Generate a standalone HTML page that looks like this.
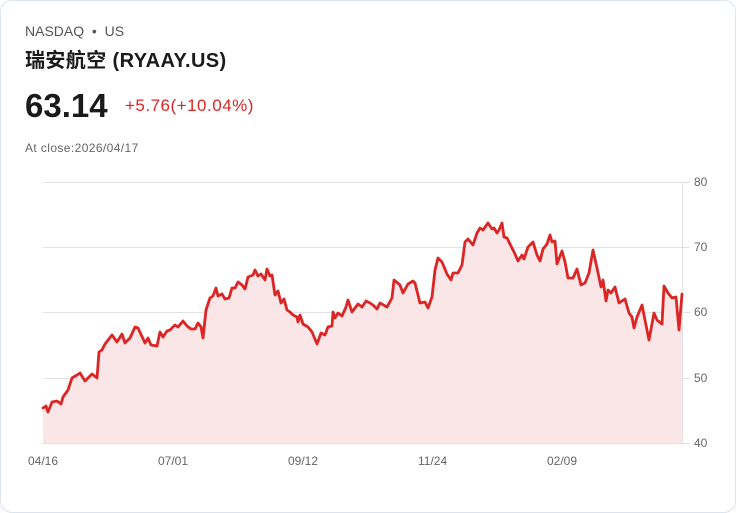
<!DOCTYPE html>
<html><head><meta charset="utf-8"><style>
body{margin:0;background:#fff;width:736px;height:513px;overflow:hidden;font-family:"Liberation Sans","Noto Sans CJK SC",sans-serif}
.card{position:absolute;left:0;top:0;width:734px;height:511px;border:1px solid #dde3ec;border-radius:12px;background:#fff}
.t{position:absolute;white-space:nowrap}
</style></head><body>
<div class="card"></div>
<div class="t" style="left:25px;top:23px;font-size:14px;color:#555">NASDAQ &nbsp;•&nbsp; US</div>
<div class="t" style="left:25px;top:44px;font-size:20px;font-weight:bold;color:#1a1a1a;letter-spacing:0.4px">瑞安航空 (RYAAY.US)</div>
<div class="t" style="left:25px;top:87px;font-size:33px;font-weight:bold;color:#1a1a1a">63.14</div>
<div class="t" style="left:125px;top:96px;font-size:17px;color:#dc2626;letter-spacing:0.5px">+5.76(+10.04%)</div>
<div class="t" style="left:25px;top:141px;font-size:12px;color:#666;letter-spacing:0.4px">At close:2026/04/17</div>
<svg width="736" height="513" style="position:absolute;left:0;top:0">
<g stroke="#e2e2e2" stroke-width="1">
<line x1="43" y1="182.5" x2="683" y2="182.5"/><line x1="43" y1="247.5" x2="683" y2="247.5"/><line x1="43" y1="312.5" x2="683" y2="312.5"/><line x1="43" y1="378.5" x2="683" y2="378.5"/><line x1="43" y1="443.5" x2="683" y2="443.5"/>
<line x1="682.5" y1="182" x2="682.5" y2="443"/>
<line x1="683" y1="182.5" x2="690" y2="182.5"/><line x1="683" y1="247.5" x2="690" y2="247.5"/><line x1="683" y1="312.5" x2="690" y2="312.5"/><line x1="683" y1="378.5" x2="690" y2="378.5"/><line x1="683" y1="443.5" x2="690" y2="443.5"/>
</g>
<g font-size="12" fill="#666" font-family="Liberation Sans, sans-serif">
<text x="694" y="186">80</text><text x="694" y="251">70</text><text x="694" y="316">60</text><text x="694" y="382">50</text><text x="694" y="447">40</text>
<text x="28" y="465">04/16</text><text x="158" y="465">07/01</text><text x="288" y="465">09/12</text><text x="418" y="465">11/24</text><text x="547" y="465">02/09</text>
</g>
<polygon fill="#fae6e6" points="43,443 43,408 46,406 48,412 52,402 57,401 61,404 63,397 68,390 72,378 77,375 80,373 85,381 92,374 97,378 99,352 102,350 105,344 112,335 117,342 122,334 125,343 130,338 135,327 138,328 145,343 148,338 151,345 157,346 160,332 163,337 167,331 170,330 175,325 178,327 183,321 187,326 191,329 195,329 198,323 201,327 203,338 206,310 210,298 213,296 216,288 218,296 222,294 225,299 229,298 232,288 235,288 238,282 242,285 245,289 248,277 253,275 255,270 258,276 261,274 265,280 267,269 270,276 272,275 275,295 278,291 281,303 284,299 287,310 290,312 293,315 297,317 298,322 300,315 303,324 308,327 312,332 317,344 321,333 325,335 328,327 332,326 333,312 335,318 338,313 342,316 346,307 348,300 352,312 358,304 362,307 366,301 370,303 373,305 377,309 380,303 387,307 392,298 394,280 400,285 403,293 408,284 413,281 415,283 420,303 425,302 428,308 432,297 435,270 438,258 442,262 447,274 451,280 453,273 458,273 462,265 465,242 468,239 473,245 477,233 480,228 483,230 488,223 492,229 494,228 497,233 499,230 502,223 504,237 507,238 512,248 515,254 518,261 522,255 524,259 528,247 533,242 537,255 540,261 543,249 547,244 550,235 552,242 555,241 557,264 562,251 565,262 568,278 573,278 577,269 581,285 585,283 589,273 593,250 597,268 601,287 603,280 606,301 608,290 611,293 615,287 619,303 625,299 629,313 632,317 634,328 637,317 642,305 649,340 654,313 657,320 662,324 664,286 668,293 672,298 676,297 679,330 682,294 682,443"/>
<polyline fill="none" stroke="#dc2626" stroke-width="2.8" stroke-linejoin="round" stroke-linecap="round" points="43,408 46,406 48,412 52,402 57,401 61,404 63,397 68,390 72,378 77,375 80,373 85,381 92,374 97,378 99,352 102,350 105,344 112,335 117,342 122,334 125,343 130,338 135,327 138,328 145,343 148,338 151,345 157,346 160,332 163,337 167,331 170,330 175,325 178,327 183,321 187,326 191,329 195,329 198,323 201,327 203,338 206,310 210,298 213,296 216,288 218,296 222,294 225,299 229,298 232,288 235,288 238,282 242,285 245,289 248,277 253,275 255,270 258,276 261,274 265,280 267,269 270,276 272,275 275,295 278,291 281,303 284,299 287,310 290,312 293,315 297,317 298,322 300,315 303,324 308,327 312,332 317,344 321,333 325,335 328,327 332,326 333,312 335,318 338,313 342,316 346,307 348,300 352,312 358,304 362,307 366,301 370,303 373,305 377,309 380,303 387,307 392,298 394,280 400,285 403,293 408,284 413,281 415,283 420,303 425,302 428,308 432,297 435,270 438,258 442,262 447,274 451,280 453,273 458,273 462,265 465,242 468,239 473,245 477,233 480,228 483,230 488,223 492,229 494,228 497,233 499,230 502,223 504,237 507,238 512,248 515,254 518,261 522,255 524,259 528,247 533,242 537,255 540,261 543,249 547,244 550,235 552,242 555,241 557,264 562,251 565,262 568,278 573,278 577,269 581,285 585,283 589,273 593,250 597,268 601,287 603,280 606,301 608,290 611,293 615,287 619,303 625,299 629,313 632,317 634,328 637,317 642,305 649,340 654,313 657,320 662,324 664,286 668,293 672,298 676,297 679,330 682,294"/>
</svg>
</body></html>
